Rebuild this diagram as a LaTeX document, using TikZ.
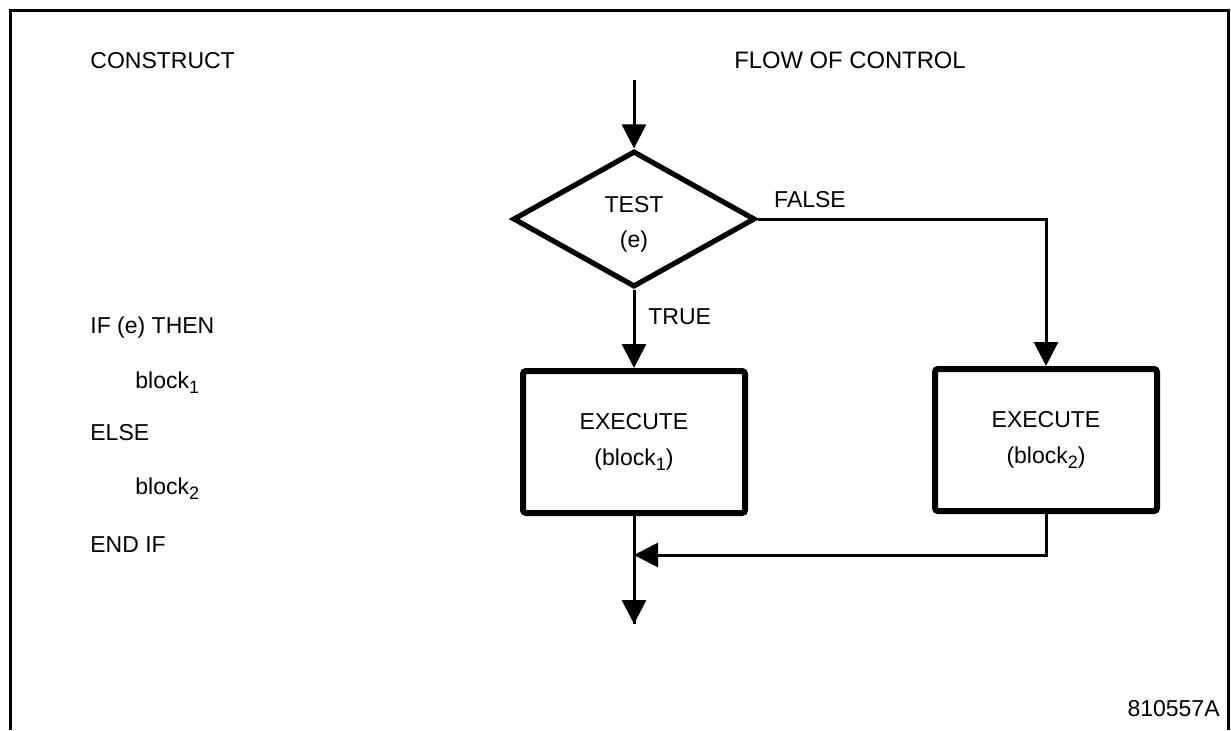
\documentclass[tikz,border=0pt]{standalone}
\usepackage{fontspec}
\setmainfont{Liberation Sans}
\usetikzlibrary{shapes.geometric,arrows.meta}
\newcommand{\sbs}[1]{\raisebox{-0.45ex}{\fontsize{9}{9}\selectfont #1}}
\tikzset{
  lbl/.style={inner sep=0pt, font=\fontsize{11.5}{17.5}\selectfont},
  execbox/.style={draw, line width=3pt, rounded corners=1.5pt, minimum width=111pt, minimum height=71pt, inner sep=0pt, align=center, font=\fontsize{11.5}{18}\selectfont},
  testdia/.style={draw, diamond, line width=2.6pt, minimum width=121pt, minimum height=68pt, inner sep=0pt},
  flow/.style={line width=1.5pt, -{Triangle[width=12pt,length=12pt]}},
  plain/.style={line width=1.5pt},
  frame/.style={line width=1.5pt}
}
\begin{document}
\begin{tikzpicture}[x=0.5pt,y=-0.5pt]
\useasboundingbox (0,0) rectangle (1231,730);
\draw[frame] (10,730) -- (10,10) -- (1228,10) -- (1228,730);

% headings
\node[lbl, anchor=base west] (hcon) at (90,68) {CONSTRUCT};
\node[lbl, anchor=base, font=\fontsize{11.9}{17.5}\selectfont] (hflow) at (850,68) {FLOW OF CONTROL};

% code listing
\node[lbl, anchor=base west] (c1) at (90,333) {IF (e) THEN};
\node[lbl, anchor=base west] (c2) at (135,388) {block\sbs{1}};
\node[lbl, anchor=base west] (c3) at (90,440) {ELSE};
\node[lbl, anchor=base west] (c4) at (135,494) {block\sbs{2}};
\node[lbl, anchor=base west] (c5) at (90,552) {END IF};

% flowchart
\coordinate (in) at (634,80);
\node[testdia] (d) at (634,219) {};
\node[lbl, align=center] (dt) at (634,224) {TEST\\(e)};
\node[execbox] (b1) at (634,442) {EXECUTE\\(block\sbs{1})};
\node[execbox] (b2) at (1046,440) {EXECUTE\\(block\sbs{2})};
\coordinate (j) at (634,555);
\coordinate (out) at (634,624);

\draw[flow] (in) -- (d.north);
\draw[flow] (d.south) -- (b1.north);
\node[lbl, anchor=west] (ltrue) at (648,317) {TRUE};
\draw[flow] (d.east) -| (b2.north);
\node[lbl] (lfalse) at (810,200) {FALSE};
\draw[plain] (b1.south) -- (out);
\draw[flow] (b2.south) |- (j);
\draw[flow] (j) -- (out);

\node[lbl, anchor=base east] (id) at (1220,716) {810557A};
\end{tikzpicture}
\end{document}
